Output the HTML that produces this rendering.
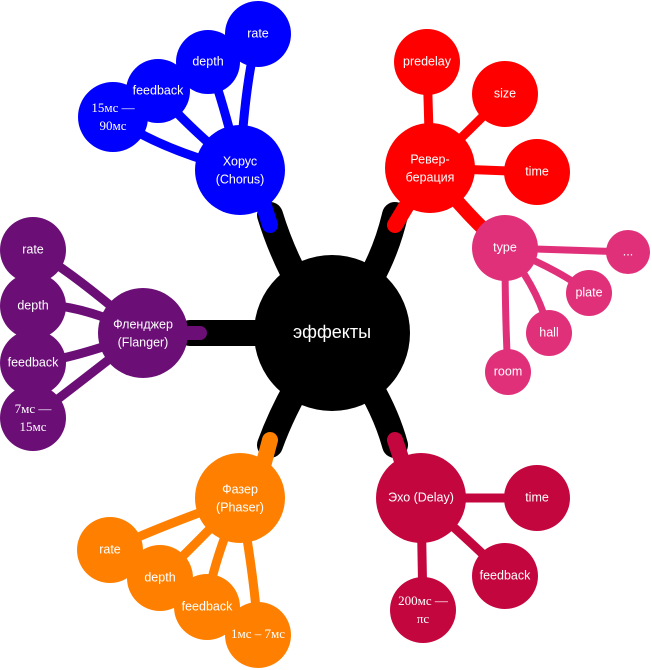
<!DOCTYPE html><html><head><meta charset="utf-8"><style>body{margin:0;background:#fff}svg{display:block}text{font-family:"Liberation Sans",sans-serif;fill:#fff;font-size:12.5px;text-anchor:middle;dominant-baseline:middle}.s{font-family:"Liberation Serif",serif;font-size:13px}</style></head><body>
<svg width="652" height="670" viewBox="0 0 652 670">
<g stroke-linecap="round" fill="none">
<path d="M332,333 Q290,280 270,215" stroke="#000" stroke-width="26"/>
<path d="M332,333 Q380,280 395,215" stroke="#000" stroke-width="26"/>
<path d="M332,333 Q280,333 190,333" stroke="#000" stroke-width="26"/>
<path d="M332,333 Q290,390 270,445" stroke="#000" stroke-width="26"/>
<path d="M332,333 Q380,390 395,445" stroke="#000" stroke-width="26"/>
<path d="M270,225 L262,200" stroke="#00f" stroke-width="16"/>
<path d="M395,225 L410,200" stroke="#f00" stroke-width="16"/>
<path d="M200,333 L180,333" stroke="#6b0f77" stroke-width="14"/>
<path d="M270,440 L262,470" stroke="#ff8000" stroke-width="16"/>
<path d="M395,440 L405,470" stroke="#c4063e" stroke-width="16"/>
<g stroke="#00f" stroke-width="9"><path d="M240,170 Q245,80 258,34"/><path d="M240,170 Q220,90 208,62"/><path d="M240,170 Q180,120 158,91"/><path d="M240,170 Q160,150 113,117"/></g>
<g stroke="#f00" stroke-width="9"><path d="M430,168 L427,62"/><path d="M430,168 Q480,120 505,94"/><path d="M430,168 L537,172"/><path d="M430,168 Q470,220 505,248" stroke-width="14"/></g>
<g stroke="#e0307a" stroke-width="7"><path d="M505,248 L628,252"/><path d="M505,248 Q560,270 589,293"/><path d="M505,248 Q540,290 549,333"/><path d="M505,248 Q505,320 508,372"/></g>
<g stroke="#6b0f77" stroke-width="9"><path d="M143,333 Q70,270 33,250"/><path d="M143,333 Q70,300 33,306"/><path d="M143,333 Q70,360 33,363"/><path d="M143,333 Q70,390 33,418"/></g>
<g stroke="#ff8000" stroke-width="9"><path d="M240,498 Q150,530 110,550"/><path d="M240,498 Q180,560 160,578"/><path d="M240,498 Q210,570 207,607"/><path d="M240,498 Q255,580 258,635"/></g>
<g stroke="#c4063e" stroke-width="9"><path d="M421,498 L537,498"/><path d="M421,498 Q480,550 505,576"/><path d="M421,498 L423,610"/></g>
</g>
<circle cx="332" cy="333" r="78" fill="#000"/>
<text x="332" y="333" style="font-size:18px">эффекты</text>
<g fill="#00f"><circle cx="240" cy="170" r="45"/><circle cx="258" cy="34" r="33"/><circle cx="208" cy="62" r="32"/><circle cx="158" cy="91" r="32"/><circle cx="113" cy="117" r="35"/></g>
<text x="240" y="162">Хорус</text><text x="240" y="180">(Chorus)</text><text x="258" y="34">rate</text><text x="208" y="62">depth</text><text x="158" y="91">feedback</text><text class="s" x="113" y="109">15мс —</text><text class="s" x="113" y="127">90мс</text>
<g fill="#f00"><circle cx="430" cy="168" r="45"/><circle cx="427" cy="62" r="33"/><circle cx="505" cy="94" r="33"/><circle cx="537" cy="172" r="33"/></g>
<text x="430" y="160">Ревер-</text><text x="430" y="178">берация</text><text x="427" y="62">predelay</text><text x="505" y="94">size</text><text x="537" y="172">time</text>
<g fill="#e0307a"><circle cx="505" cy="248" r="33"/><circle cx="628" cy="252" r="22"/><circle cx="589" cy="293" r="23"/><circle cx="549" cy="333" r="23"/><circle cx="508" cy="372" r="23"/></g>
<text x="505" y="248">type</text><text x="628" y="252">...</text><text x="589" y="293">plate</text><text x="549" y="333">hall</text><text x="508" y="372">room</text>
<g fill="#6b0f77"><circle cx="143" cy="333" r="45"/><circle cx="33" cy="250" r="33"/><circle cx="33" cy="306" r="33"/><circle cx="33" cy="363" r="33"/><circle cx="33" cy="418" r="33"/></g>
<text x="143" y="325">Фленджер</text><text x="143" y="343">(Flanger)</text><text x="33" y="250">rate</text><text x="33" y="306">depth</text><text x="33" y="363">feedback</text><text class="s" x="33" y="410">7мс —</text><text class="s" x="33" y="428">15мс</text>
<g fill="#ff8000"><circle cx="240" cy="498" r="45"/><circle cx="110" cy="550" r="33"/><circle cx="160" cy="578" r="33"/><circle cx="207" cy="607" r="33"/><circle cx="258" cy="635" r="33"/></g>
<text x="240" y="490">Фазер</text><text x="240" y="508">(Phaser)</text><text x="110" y="550">rate</text><text x="160" y="578">depth</text><text x="207" y="607">feedback</text><text class="s" x="258" y="635">1мс – 7мс</text>
<g fill="#c4063e"><circle cx="421" cy="498" r="45"/><circle cx="537" cy="498" r="33"/><circle cx="505" cy="576" r="33"/><circle cx="423" cy="610" r="33"/></g>
<text x="421" y="498">Эхо (Delay)</text><text x="537" y="498">time</text><text x="505" y="576">feedback</text><text class="s" x="423" y="602">200мс —</text><text class="s" x="423" y="620">πс</text>
</svg></body></html>
